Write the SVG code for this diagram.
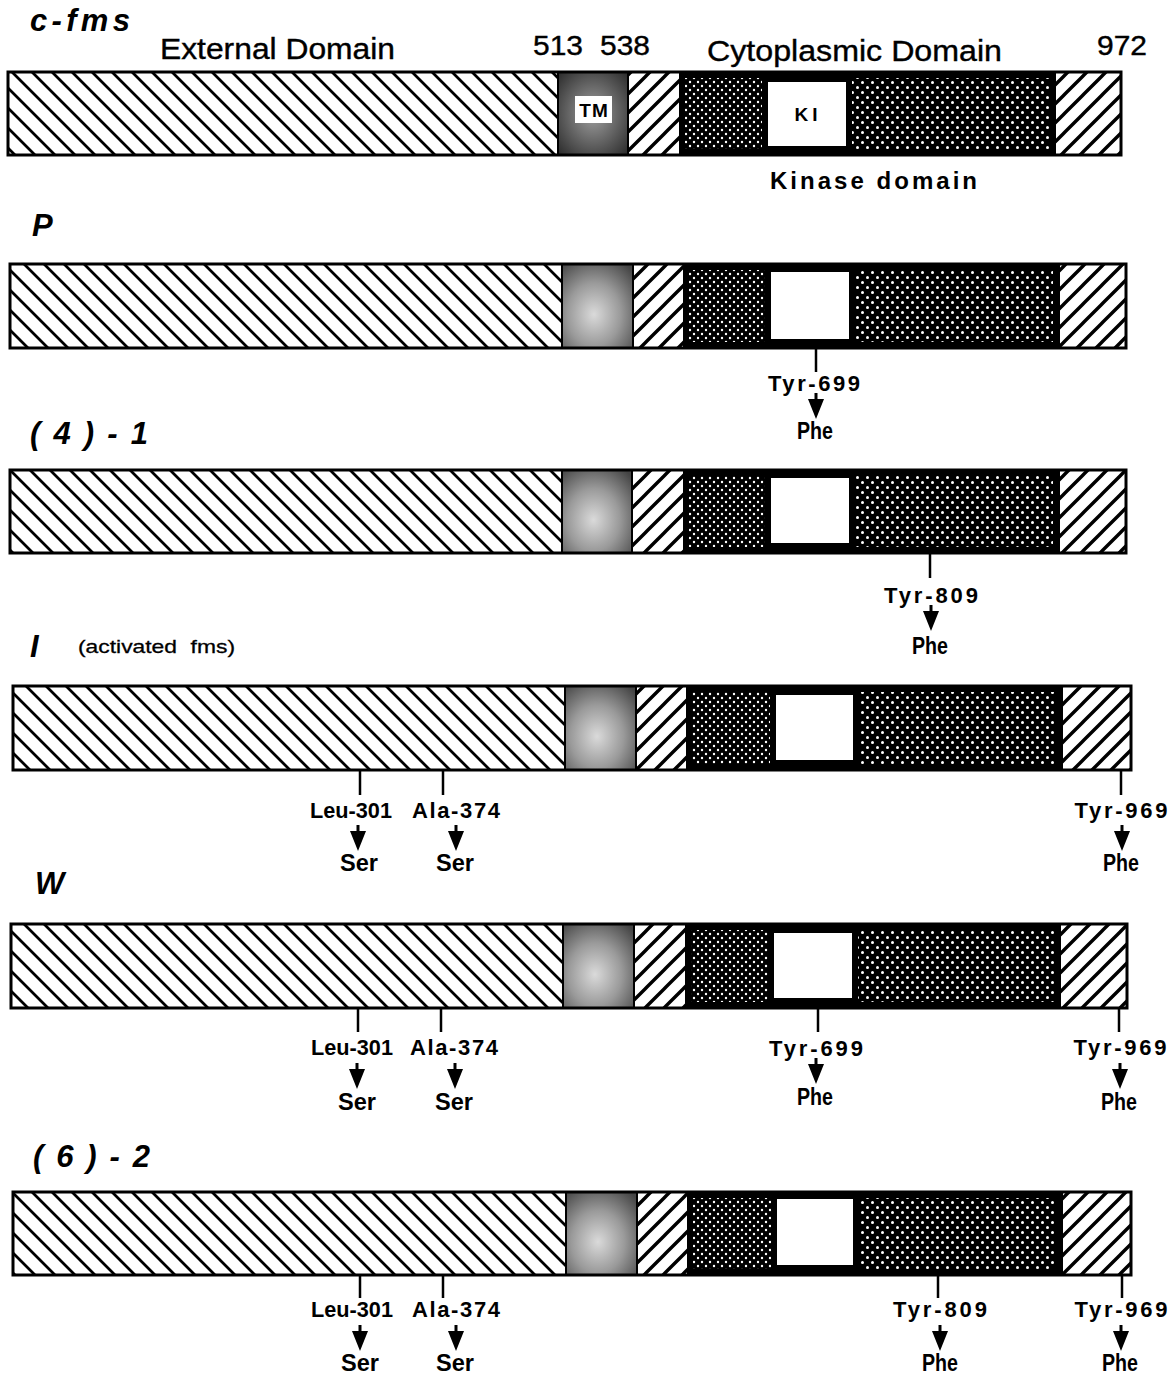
<svg xmlns="http://www.w3.org/2000/svg" xmlns:xlink="http://www.w3.org/1999/xlink" width="1174" height="1376" viewBox="0 0 1174 1376">
<style>
.ttl{font-family:"Liberation Sans",Arial,sans-serif;font-weight:bold;font-style:italic;font-size:31px;fill:#000}
.hdr{font-family:"Liberation Sans",Arial,sans-serif;font-size:30px;fill:#000;stroke:#000;stroke-width:0.4}
.num{font-family:"Liberation Sans",Arial,sans-serif;font-size:27px;fill:#000;stroke:#000;stroke-width:0.4}
.bl{font-family:"Liberation Sans",Arial,sans-serif;font-weight:bold;fill:#000}
.mut{font-family:"Liberation Sans",Arial,sans-serif;font-weight:bold;font-size:22px;fill:#000;text-anchor:middle}
.aa{font-family:"Liberation Sans",Arial,sans-serif;font-weight:bold;font-size:23px;fill:#000;text-anchor:middle}
.out{fill:none;stroke:#000;stroke-width:3}
.sep{stroke:#000;stroke-width:2}
.tick{stroke:#000;stroke-width:2.5}
</style>
<defs>
<pattern id="hatchL" patternUnits="userSpaceOnUse" width="20" height="20">
<rect width="20" height="20" fill="#fff"/>
<path d="M-5,-5 L25,25 M-5,15 L5,25 M15,-5 L25,5" stroke="#000" stroke-width="2.8"/>
</pattern>
<pattern id="hatchR" patternUnits="userSpaceOnUse" width="19" height="19">
<rect width="19" height="19" fill="#fff"/>
<path d="M-5,24 L24,-5 M-5,5 L5,-5 M14,24 L24,14" stroke="#000" stroke-width="3.4"/>
</pattern>
<pattern id="dots" patternUnits="userSpaceOnUse" width="8" height="8">
<rect width="8" height="8" fill="#000"/>
<circle cx="2" cy="2" r="1.2" fill="#fff"/>
<circle cx="6" cy="6" r="1.2" fill="#fff"/>
</pattern>
<pattern id="dots2" patternUnits="userSpaceOnUse" width="10" height="10">
<rect width="10" height="10" fill="#000"/>
<circle cx="2.5" cy="2.5" r="1.5" fill="#fff"/>
<circle cx="7.5" cy="7.5" r="1.5" fill="#fff"/>
</pattern>
<radialGradient id="tm" cx="0.45" cy="0.6" r="0.75">
<stop offset="0" stop-color="#dadada"/>
<stop offset="0.5" stop-color="#9a9a9a"/>
<stop offset="1" stop-color="#444444"/>
</radialGradient>
<radialGradient id="tm0" cx="0.5" cy="0.5" r="0.7">
<stop offset="0" stop-color="#a0a0a0"/>
<stop offset="1" stop-color="#2a2a2a"/>
</radialGradient>
<g id="arr">
<line x1="0" y1="0" x2="0" y2="8" stroke="#000" stroke-width="3"/>
<path d="M-8,6 L8,6 L0,26 Z" fill="#000"/>
</g>
</defs>
<rect width="1174" height="1376" fill="#fff"/>

<!-- c-fms -->
<g id="bar-cfms">
<text class="ttl" x="30" y="31" textLength="100" lengthAdjust="spacing">c-fms</text>
<text class="hdr" x="160" y="59" textLength="235" lengthAdjust="spacingAndGlyphs">External Domain</text>
<text class="num" x="533" y="55" textLength="50" lengthAdjust="spacingAndGlyphs">513</text>
<text class="num" x="600" y="55" textLength="50" lengthAdjust="spacingAndGlyphs">538</text>
<text class="hdr" x="707" y="61" textLength="295" lengthAdjust="spacingAndGlyphs">Cytoplasmic Domain</text>
<text class="num" x="1097" y="55" textLength="50" lengthAdjust="spacingAndGlyphs">972</text>
<rect x="8" y="72" width="550" height="83" fill="url(#hatchL)"/>
<rect x="558" y="72" width="70" height="83" fill="url(#tm0)"/>
<rect x="628" y="72" width="51" height="83" fill="url(#hatchR)"/>
<rect x="679" y="72" width="376" height="83" fill="#000"/>
<rect x="685" y="78" width="77" height="71" fill="url(#dots)"/>
<rect x="852" y="78" width="197" height="71" fill="url(#dots2)"/>
<rect x="768" y="82" width="78" height="64" fill="#fff"/>
<rect x="1055" y="72" width="66" height="83" fill="url(#hatchR)"/>
<line class="sep" x1="558" y1="72" x2="558" y2="155"/>
<line class="sep" x1="628" y1="72" x2="628" y2="155"/>
<line class="sep" x1="1055" y1="72" x2="1055" y2="155"/>
<rect class="out" x="8" y="72" width="1113" height="83"/>
<rect x="575" y="96" width="37" height="27" fill="#fff"/>
<text class="bl" x="594" y="117" font-size="19" text-anchor="middle" letter-spacing="1">TM</text>
<text class="bl" x="808" y="121" font-size="19" text-anchor="middle" letter-spacing="4">KI</text>
<text class="bl" x="770" y="189" font-size="24" textLength="207" lengthAdjust="spacing">Kinase domain</text>
</g>

<!-- P -->
<g id="bar-P">
<text class="ttl" x="32" y="236">P</text>
<rect x="10" y="264" width="552" height="84" fill="url(#hatchL)"/>
<rect x="562" y="264" width="71" height="84" fill="url(#tm)"/>
<rect x="633" y="264" width="50" height="84" fill="url(#hatchR)"/>
<rect x="683" y="264" width="376" height="84" fill="#000"/>
<rect x="689" y="270" width="76" height="72" fill="url(#dots)"/>
<rect x="855" y="270" width="198" height="72" fill="url(#dots2)"/>
<rect x="771" y="272" width="78" height="67" fill="#fff"/>
<rect x="1059" y="264" width="67" height="84" fill="url(#hatchR)"/>
<line class="sep" x1="562" y1="264" x2="562" y2="348"/>
<line class="sep" x1="633" y1="264" x2="633" y2="348"/>
<line class="sep" x1="1059" y1="264" x2="1059" y2="348"/>
<rect class="out" x="10" y="264" width="1116" height="84"/>
<text class="mut" x="814" y="391" textLength="92" lengthAdjust="spacing">Tyr-699</text>
<text class="aa" x="815" y="439" textLength="36" lengthAdjust="spacingAndGlyphs">Phe</text>
</g>

<!-- (4)-1 -->
<g id="bar-4-1">
<text class="ttl" x="30" y="444" textLength="118" lengthAdjust="spacing">(4)-1</text>
<rect x="10" y="470" width="552" height="83" fill="url(#hatchL)"/>
<rect x="562" y="470" width="70" height="83" fill="url(#tm)"/>
<rect x="632" y="470" width="51" height="83" fill="url(#hatchR)"/>
<rect x="683" y="470" width="376" height="83" fill="#000"/>
<rect x="689" y="476" width="76" height="71" fill="url(#dots)"/>
<rect x="855" y="476" width="198" height="71" fill="url(#dots2)"/>
<rect x="771" y="478" width="78" height="65" fill="#fff"/>
<rect x="1059" y="470" width="67" height="83" fill="url(#hatchR)"/>
<line class="sep" x1="562" y1="470" x2="562" y2="553"/>
<line class="sep" x1="632" y1="470" x2="632" y2="553"/>
<line class="sep" x1="1059" y1="470" x2="1059" y2="553"/>
<rect class="out" x="10" y="470" width="1116" height="83"/>
<text class="mut" x="931" y="603" textLength="94" lengthAdjust="spacing">Tyr-809</text>
<text class="aa" x="930" y="654" textLength="36" lengthAdjust="spacingAndGlyphs">Phe</text>
</g>

<!-- I -->
<g id="bar-I">
<text class="ttl" x="30" y="657">I</text>
<text x="78" y="653" font-family="Liberation Sans, Arial, sans-serif" font-size="19" stroke="#000" stroke-width="0.3" textLength="157" lengthAdjust="spacingAndGlyphs" word-spacing="6">(activated fms)</text>
<rect x="13" y="686" width="552" height="84" fill="url(#hatchL)"/>
<rect x="565" y="686" width="71" height="84" fill="url(#tm)"/>
<rect x="636" y="686" width="50" height="84" fill="url(#hatchR)"/>
<rect x="686" y="686" width="376" height="84" fill="#000"/>
<rect x="692" y="692" width="78" height="72" fill="url(#dots)"/>
<rect x="859" y="692" width="197" height="72" fill="url(#dots2)"/>
<rect x="776" y="695" width="77" height="65" fill="#fff"/>
<rect x="1062" y="686" width="69" height="84" fill="url(#hatchR)"/>
<line class="sep" x1="565" y1="686" x2="565" y2="770"/>
<line class="sep" x1="636" y1="686" x2="636" y2="770"/>
<line class="sep" x1="1062" y1="686" x2="1062" y2="770"/>
<rect class="out" x="13" y="686" width="1118" height="84"/>
<text class="mut" x="351" y="818" textLength="82" lengthAdjust="spacingAndGlyphs">Leu-301</text>
<text class="mut" x="456" y="818" textLength="88" lengthAdjust="spacing">Ala-374</text>
<text class="mut" x="1121" y="818" textLength="93" lengthAdjust="spacing">Tyr-969</text>
<text class="aa" x="359" y="871" textLength="38" lengthAdjust="spacingAndGlyphs">Ser</text>
<text class="aa" x="455" y="871" textLength="38" lengthAdjust="spacingAndGlyphs">Ser</text>
<text class="aa" x="1121" y="871" textLength="36" lengthAdjust="spacingAndGlyphs">Phe</text>
</g>

<!-- W -->
<g id="bar-W">
<text class="ttl" x="35" y="894">W</text>
<rect x="11" y="924" width="552" height="84" fill="url(#hatchL)"/>
<rect x="563" y="924" width="71" height="84" fill="url(#tm)"/>
<rect x="634" y="924" width="51" height="84" fill="url(#hatchR)"/>
<rect x="685" y="924" width="375" height="84" fill="#000"/>
<rect x="691" y="930" width="77" height="72" fill="url(#dots)"/>
<rect x="858" y="930" width="196" height="72" fill="url(#dots2)"/>
<rect x="774" y="933" width="78" height="65" fill="#fff"/>
<rect x="1060" y="924" width="67" height="84" fill="url(#hatchR)"/>
<line class="sep" x1="563" y1="924" x2="563" y2="1008"/>
<line class="sep" x1="634" y1="924" x2="634" y2="1008"/>
<line class="sep" x1="1060" y1="924" x2="1060" y2="1008"/>
<rect class="out" x="11" y="924" width="1116" height="84"/>
<text class="mut" x="352" y="1055" textLength="82" lengthAdjust="spacingAndGlyphs">Leu-301</text>
<text class="mut" x="454" y="1055" textLength="88" lengthAdjust="spacing">Ala-374</text>
<text class="mut" x="816" y="1056" textLength="94" lengthAdjust="spacing">Tyr-699</text>
<text class="mut" x="1120" y="1055" textLength="93" lengthAdjust="spacing">Tyr-969</text>
<text class="aa" x="357" y="1110" textLength="38" lengthAdjust="spacingAndGlyphs">Ser</text>
<text class="aa" x="454" y="1110" textLength="38" lengthAdjust="spacingAndGlyphs">Ser</text>
<text class="aa" x="815" y="1105" textLength="36" lengthAdjust="spacingAndGlyphs">Phe</text>
<text class="aa" x="1119" y="1110" textLength="36" lengthAdjust="spacingAndGlyphs">Phe</text>
</g>

<!-- (6)-2 -->
<g id="bar-6-2">
<text class="ttl" x="33" y="1167" textLength="117" lengthAdjust="spacing">(6)-2</text>
<rect x="13" y="1192" width="553" height="83" fill="url(#hatchL)"/>
<rect x="566" y="1192" width="71" height="83" fill="url(#tm)"/>
<rect x="637" y="1192" width="50" height="83" fill="url(#hatchR)"/>
<rect x="687" y="1192" width="375" height="83" fill="#000"/>
<rect x="693" y="1198" width="78" height="71" fill="url(#dots)"/>
<rect x="859" y="1198" width="197" height="71" fill="url(#dots2)"/>
<rect x="777" y="1199" width="76" height="66" fill="#fff"/>
<rect x="1062" y="1192" width="69" height="83" fill="url(#hatchR)"/>
<line class="sep" x1="566" y1="1192" x2="566" y2="1275"/>
<line class="sep" x1="637" y1="1192" x2="637" y2="1275"/>
<line class="sep" x1="1062" y1="1192" x2="1062" y2="1275"/>
<rect class="out" x="13" y="1192" width="1118" height="83"/>
<text class="mut" x="352" y="1317" textLength="82" lengthAdjust="spacingAndGlyphs">Leu-301</text>
<text class="mut" x="456" y="1317" textLength="88" lengthAdjust="spacing">Ala-374</text>
<text class="mut" x="940" y="1317" textLength="94" lengthAdjust="spacing">Tyr-809</text>
<text class="mut" x="1121" y="1317" textLength="93" lengthAdjust="spacing">Tyr-969</text>
<text class="aa" x="360" y="1371" textLength="38" lengthAdjust="spacingAndGlyphs">Ser</text>
<text class="aa" x="455" y="1371" textLength="38" lengthAdjust="spacingAndGlyphs">Ser</text>
<text class="aa" x="940" y="1371" textLength="36" lengthAdjust="spacingAndGlyphs">Phe</text>
<text class="aa" x="1120" y="1371" textLength="36" lengthAdjust="spacingAndGlyphs">Phe</text>
</g>

<g id="connectors">
<line class="tick" x1="816" y1="348" x2="816" y2="372"/>
<use xlink:href="#arr" x="816" y="393"/>
<line class="tick" x1="930" y1="553" x2="930" y2="578"/>
<use xlink:href="#arr" x="931" y="605"/>
<line class="tick" x1="360" y1="770" x2="360" y2="795"/>
<line class="tick" x1="443" y1="770" x2="443" y2="795"/>
<line class="tick" x1="1121" y1="770" x2="1121" y2="795"/>
<use xlink:href="#arr" x="358" y="825"/>
<use xlink:href="#arr" x="456" y="825"/>
<use xlink:href="#arr" x="1122" y="825"/>
<line class="tick" x1="358" y1="1008" x2="358" y2="1032"/>
<line class="tick" x1="441" y1="1008" x2="441" y2="1032"/>
<line class="tick" x1="818" y1="1008" x2="818" y2="1032"/>
<line class="tick" x1="1119" y1="1008" x2="1119" y2="1032"/>
<use xlink:href="#arr" x="357" y="1063"/>
<use xlink:href="#arr" x="455" y="1063"/>
<use xlink:href="#arr" x="816" y="1058"/>
<use xlink:href="#arr" x="1120" y="1063"/>
<line class="tick" x1="360" y1="1275" x2="360" y2="1298"/>
<line class="tick" x1="443" y1="1275" x2="443" y2="1298"/>
<line class="tick" x1="938" y1="1275" x2="938" y2="1298"/>
<line class="tick" x1="1122" y1="1275" x2="1122" y2="1298"/>
<use xlink:href="#arr" x="360" y="1325"/>
<use xlink:href="#arr" x="456" y="1325"/>
<use xlink:href="#arr" x="940" y="1325"/>
<use xlink:href="#arr" x="1121" y="1325"/>
</g>
</svg>
